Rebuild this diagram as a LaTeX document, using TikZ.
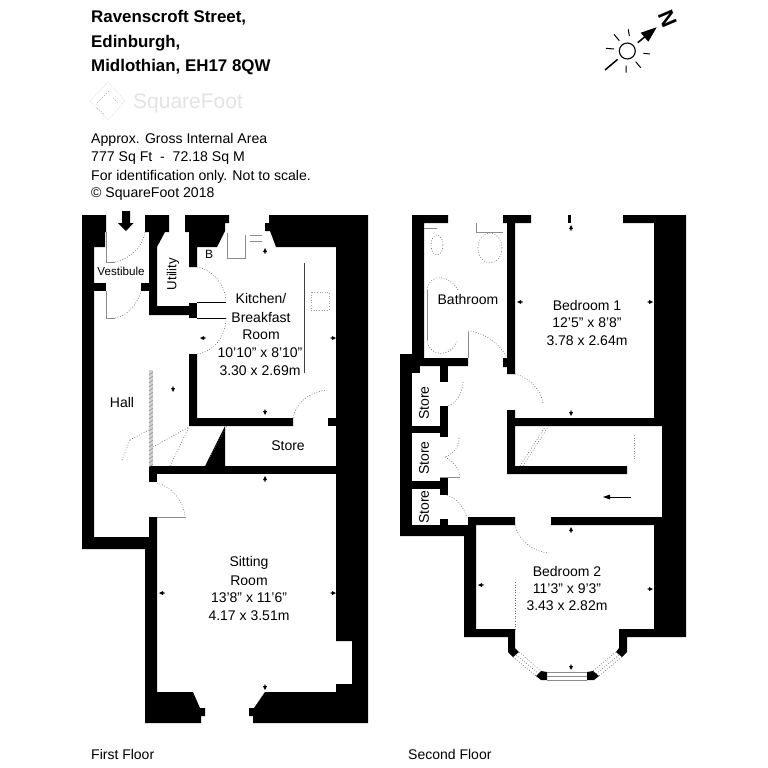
\documentclass[tikz,border=0pt]{standalone}
\usepackage{fontspec}
\setmainfont{Liberation Sans}
\tikzset{
  wall/.style={fill=black,draw=none},
  thin gray/.style={draw=black!45,line width=0.7pt},
  dots/.style={draw=black!60,line width=0.6pt,dash pattern=on 0.8pt off 1.8pt},
  faint/.style={draw=black!16,line width=0.6pt,dash pattern=on 1pt off 1.6pt},
  room/.style={font=\fontsize{14}{14}\selectfont,inner sep=0pt,text=black},
  head/.style={font=\fontsize{16.9}{17}\selectfont\bfseries,anchor=base west,inner sep=0pt},
  info/.style={font=\fontsize{14.1}{14}\selectfont,anchor=base west,inner sep=0pt}
}
\newcommand{\tk}[3]{\fill[shift={(#1,#2)},rotate=#3] (0pt,3pt)--(-2pt,-1pt)--(-0.6pt,-1pt)--(-0.6pt,-2.5pt)--(0.6pt,-2.5pt)--(0.6pt,-1pt)--(2pt,-1pt)--cycle;}
\begin{document}
\begin{tikzpicture}[x=1pt,y=-1pt]
\useasboundingbox (0,0) rectangle (768,768);
\fill[white] (0,0) rectangle (768,768);

% ---- Header
\node[head] (t1) at (91,23) {Ravenscroft Street,};
\node[head] (t2) at (91,47.5) {Edinburgh,};
\node[head] (t3) at (91,71) {Midlothian, EH17 8QW};
\node[font=\fontsize{21}{21}\selectfont,text=black!11,anchor=base west,inner sep=0pt] (logo) at (133,108) {SquareFoot};
\draw[faint] (90,101)--(108,82)--(125,101)--(108,120)--cycle;
\draw[faint,draw=black!35] (97,103)--(110,90) (113,98)--(118,103) (97,108)--(105,115);
\node[info] (i1) at (91,143) {Approx. Gross Internal Area};
\node[info] (i2) at (91,161) {777 Sq Ft \ -\ \ 72.18 Sq M};
\node[info] (i3) at (91,180) {For identification only. Not to scale.};
\node[info] (i4) at (91,197) {© SquareFoot 2018};

% ---- Compass
\draw[line width=1.1pt] (627.3,51) circle (8pt);
\draw[line width=1.5pt] (605,70)--(617.7,59.3);
\draw[line width=1pt] (626,65.7)--(626,72.7) (635.7,61.7)--(640.7,67.7) (643.3,53.3)--(650,54)
  (628.3,29.3)--(629.3,36) (614,34.3)--(619.3,40.7) (606,48.3)--(614,49);
\draw[line width=1.5pt] (637.7,42.7)--(645,36.7);
\fill (656.7,27.3)--(640.7,32.7)--(648.3,41.7)--cycle;
\node[font=\fontsize{22}{22}\selectfont\bfseries,rotate=-67,inner sep=0pt] (north) at (667.5,18.5) {N};

% ---- First floor walls
\fill[wall] (82,215)--(106,215)--(106,232)--(105,232)--(105,247)--(94,247)--(94,537)--(149,537)--(149,517)--(157,517)--(157,692)--(193,692)--(200,708)--(205,708)--(205,716)--(201,716)--(201,723)--(145,723)--(145,549)--(82,549)--cycle;
\fill[wall] (145,215)--(169,215)--(169,232)--(165,232)--(157,247)--(157,306)--(189,306)--(189,315)--(149,315)--(149,232)--(145,232)--cycle;
\fill[wall] (185,215)--(229,215)--(229,223)--(225,223)--(225,231)--(217,247)--(197,247)--(197,267)--(189,267)--(189,232)--(185,232)--cycle;
\fill[wall] (269,215)--(368,215)--(368,723)--(253,723)--(253,716)--(249,716)--(249,708)--(254,708)--(265,692)--(336,692)--(336,684)--(352,684)--(352,641)--(336,641)--(336,247)--(276,247)--(270,231)--(265,231)--(265,223)--(269,223)--cycle;
\fill[wall] (94,283) rectangle (106,291);
\fill[wall] (141,283) rectangle (149,291);
\fill[wall] (189,303) rectangle (197,318);
\fill[wall] (189,354)--(197,354)--(197,418)--(293,418)--(293,426)--(189,426)--cycle;
\fill[wall] (328,418) rectangle (336,426);
\fill[wall] (149,466) rectangle (336,474);
\fill[wall] (149,474) rectangle (157,482);
\fill[wall] (225,426)--(225,466)--(205,466)--cycle;
% entrance arrow
\fill (122,211)--(130,211)--(130,223)--(133.5,223)--(126,231)--(118,223)--(122,223)--cycle;
% first floor doors
\draw[thin gray] (106,232)--(106,262)--(115,262);
\draw[thin gray] (106,291)--(106,318)--(115,318);
\draw[dots] (115,262) .. controls (132,258) and (143,246) .. (145,232);
\draw[dots] (115,318) .. controls (128,316) and (138,303) .. (141,291);
\draw[dots] (197,267) .. controls (213,270) and (226,285) .. (226,302);
\draw[dots] (226,318) .. controls (226,337) and (213,352) .. (197,354);
\draw[dots] (293,418) .. controls (296,403) and (310,391) .. (328,390);
\draw[dots] (157,483) .. controls (170,486) and (184,500) .. (185,517);
\draw[thin gray] (157,517)--(186,517);
\draw[line width=0.7pt] (197,302)--(226,302) (197,318)--(226,318);
\draw[line width=0.7pt,draw=black!75] (304.5,263)--(304.5,373);
% stairs
\fill[black!18] (149,370) rectangle (153,466);
\foreach \yy in {372,376,...,464} {\draw[black!45,line width=0.5pt] (149,\yy+3)--(153,\yy);}
\draw[dots] (153,447)--(189,427) (170,466)--(189,427) (205,466)--(227,426);
\draw[dots] (149,430)--(130,440) (130,440)--(122,460);
% kitchen fittings
\draw[thin gray,line width=0.5pt] (227,233)--(227,258)--(245,258)--(245,235);
\draw[thin gray,line width=0.5pt] (250,235)--(262,235) (250,241)--(262,241);
\draw[faint,draw=black!40] (311,292) rectangle (329,310);
% first floor labels
\node[font=\fontsize{11.6}{12}\selectfont,inner sep=0pt] (vest) at (121,271) {Vestibule};
\node[font=\fontsize{13.2}{13}\selectfont,inner sep=0pt,rotate=90] (util) at (173,274) {Utility};
\node[font=\fontsize{12}{12}\selectfont,inner sep=0pt] (boiler) at (209,254) {B};
\node[room] (k1) at (261,298) {Kitchen/};
\node[room] (k2) at (261,317) {Breakfast};
\node[room] (k3) at (261,335) {Room};
\node[room] (k4) at (260,353) {10'10" x 8'10"};
\node[room] (k5) at (260,371) {3.30 x 2.69m};
\node[room] (hall) at (122,402) {Hall};
\node[room] (st) at (288,446) {Store};
\node[room] (s1) at (249,563) {Sitting};
\node[room] (s2) at (249,581) {Room};
\node[room] (s3) at (249,598) {13'8" x 11'6"};
\node[room] (s4) at (249,616) {4.17 x 3.51m};
\node[room,anchor=base west] (ff) at (91,759) {First Floor};
\node[room,anchor=base west] (sf) at (408,759) {Second Floor};
\tk{265}{251}{0}\tk{265}{412}{180}\tk{203}{338}{90}\tk{333}{338}{-90}
\tk{173}{389}{180}\tk{265}{479}{0}\tk{162}{593}{90}\tk{333}{593}{-90}\tk{265}{687}{180}

% ---- Second floor walls
\fill[wall] (412,215)--(448,215)--(448,223)--(424,223)--(424,358)--(468,358)--(468,366)--(412,366)--cycle;
\fill[wall] (400,354) rectangle (412,536);
\fill[wall] (412,366) rectangle (420,373);
\fill[wall] (440,366) rectangle (448,382);
\fill[wall] (440,406) rectangle (448,437);
\fill[wall] (412,426) rectangle (440,433);
\fill[wall] (412,481) rectangle (448,489);
\fill[wall] (440,478) rectangle (448,495);
\fill[wall] (440,519) rectangle (448,525);
\fill[wall] (400,525)--(468,525)--(468,517)--(515,517)--(515,525)--(476,525)--(476,629)--(515,629)--(515,648)--(519,652)--(513,657)--(508,652)--(508,637)--(464,637)--(464,536)--(400,536)--cycle;
\fill[wall] (503,215)--(531,215)--(531,223)--(515,223)--(515,374)--(507,374)--(507,367)--(503,367)--(503,358)--(507,358)--(507,223)--(503,223)--cycle;
\fill[wall] (568,215) rectangle (571,223);
\fill[wall] (623,215)--(686,215)--(686,637)--(627,637)--(627,652)--(622,657)--(616,652)--(619,648)--(619,629)--(654,629)--(654,525)--(551,525)--(551,517)--(662,517)--(662,426)--(515,426)--(515,466)--(627,466)--(627,474)--(507,474)--(507,410)--(515,410)--(515,418)--(654,418)--(654,223)--(623,223)--cycle;
\fill[wall] (536,676)--(541,671)--(547,672)--(547,680)--(541,680)--cycle;
\fill[wall] (587,672)--(593,671)--(599,676)--(594,680)--(587,680)--cycle;
% bay window
\draw[thin gray] (547,672)--(587,672) (547,676)--(587,676) (547,680)--(587,680);
\draw[dots] (519,652)--(541,671) (516,655)--(539,674) (513,657)--(536,676);
\draw[dots] (616,652)--(593,671) (619,655)--(596,674) (622,657)--(599,676);
% bathroom fittings
\draw[thin gray] (424,228)--(437,228);
\draw[dots] (437,245) ellipse (6pt and 10pt);
\draw[dots] (490,248) ellipse (12pt and 15pt);
\draw[thin gray] (476,223)--(476,232)--(503,232);
\draw[thin gray] (427,290)--(427,340);
\draw[dots] (427,290) .. controls (430,272) and (450,275) .. (458,290);
\draw[dots] (427,340) .. controls (430,358) and (450,358) .. (458,340);
% second floor doors
\draw[thin gray] (468,332)--(468,358);
\draw[dots] (468,331) .. controls (484,332) and (500,344) .. (507,358);
\draw[dots] (515,374) .. controls (530,378) and (541,390) .. (543,403);
\draw[dots] (463,382) .. controls (462,395) and (456,403) .. (448,406);
\draw[dots] (459,438) .. controls (459,447) and (453,454) .. (445,457);
\draw[dots] (445,457) .. controls (453,461) and (459,468) .. (460,477);
\draw[thin gray] (440,477)--(460,477);
\draw[dots] (447,495) .. controls (458,499) and (464,508) .. (467,518);
\draw[dots] (515,525) .. controls (518,540) and (532,551) .. (548,553);
\draw[dots] (515,582)--(515,629);
% upper stairs
\draw[dots] (520,466)--(545,427) (523,466)--(548,427);
\draw[dots,draw=black!40] (634,435)--(634,460);
% direction arrow
\draw[line width=0.7pt] (631,497)--(606,497);
\fill (603,497)--(610,494.5)--(610,499.5)--cycle;
% second floor labels
\node[room] (bath) at (468,299) {Bathroom};
\node[room] (b1) at (587,305) {Bedroom 1};
\node[room] (b2) at (587,323) {12'5" x 8'8"};
\node[room] (b3) at (587,341) {3.78 x 2.64m};
\node[room] (c1) at (567,571) {Bedroom 2};
\node[room] (c2) at (567,589) {11'3" x 9'3"};
\node[room] (c3) at (567,606) {3.43 x 2.82m};
\node[room,rotate=90] (st1) at (424,403) {Store};
\node[room,rotate=90] (st2) at (424,458) {Store};
\node[room,rotate=90] (st3) at (424,507) {Store};
\tk{571}{228}{0}\tk{571}{413}{180}\tk{520}{302}{90}\tk{650}{302}{-90}
\tk{571}{530}{0}\tk{571}{667}{180}\tk{481}{585}{90}\tk{650}{589}{-90}
\end{tikzpicture}
\end{document}
